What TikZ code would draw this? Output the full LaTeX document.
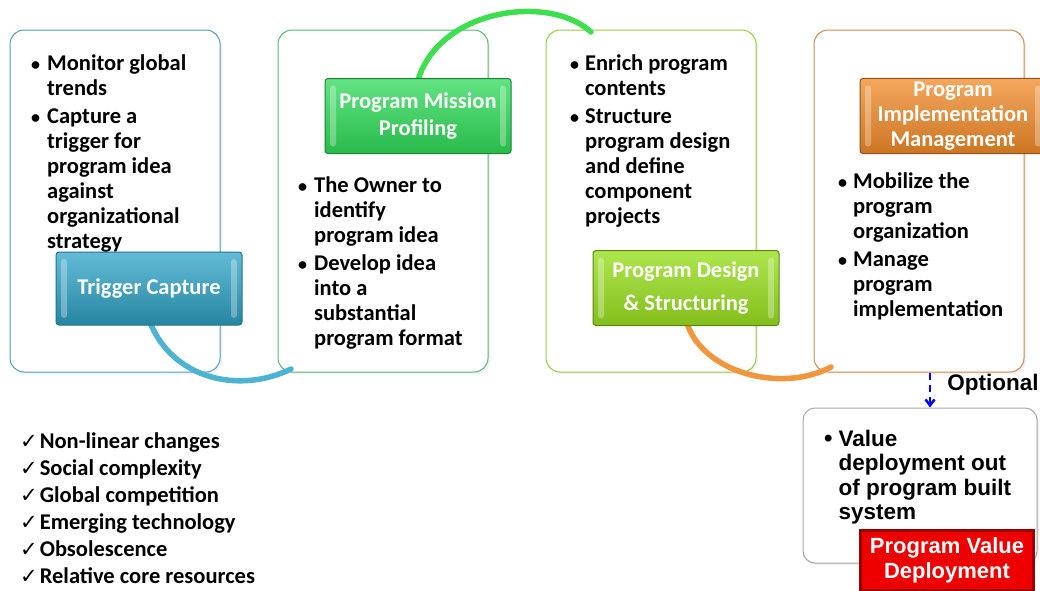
\documentclass[tikz,border=0pt]{standalone}
\usepackage{fontspec}
\setmainfont{Carlito}
\newfontfamily\arialfont{Liberation Sans}
\newfontfamily\checkfont{DejaVu Sans}
\usetikzlibrary{positioning,shadows,arrows.meta}
\definecolor{capblue}{HTML}{2FA6CA}
\definecolor{capblueline}{HTML}{4F9DBC}
\definecolor{misgreen}{HTML}{2FDB58}
\definecolor{misgreenline}{HTML}{52B872}
\definecolor{deslime}{HTML}{9AE022}
\definecolor{deslimeline}{HTML}{9CCB3A}
\definecolor{imporange}{HTML}{F08A28}
\definecolor{imporangeline}{HTML}{CC8A4E}
\definecolor{valred}{HTML}{EE0000}
\newcommand{\bul}{{\fontsize{18}{25}\selectfont\textbullet}}
\newcommand{\chk}{{\checkfont\mdseries\fontsize{21}{27}\selectfont ✓}}

\begin{document}
\begin{tikzpicture}[x=1pt,y=-1pt,
  node distance=57pt,
  bigbox/.style={draw, line width=1pt, fill=white, rounded corners=14pt,
    minimum width=210pt, minimum height=342pt,
    drop shadow={opacity=0.12, shadow xshift=2pt, shadow yshift=-2pt}},
  headbox/.style={rounded corners=3pt, minimum width=186pt, minimum height=75pt,
    text=white, align=center, line width=1pt,
    font=\bfseries\fontsize{22.5}{25}\selectfont,
    path picture={
      \fill[white, opacity=0.3] ([xshift=5pt, yshift=-7pt]path picture bounding box.north west)
        rectangle ([xshift=11pt, yshift=7pt]path picture bounding box.south west);
      \fill[white, opacity=0.3] ([xshift=-5pt, yshift=-7pt]path picture bounding box.north east)
        rectangle ([xshift=-11pt, yshift=7pt]path picture bounding box.south east);}},
  itemtext/.style={anchor=north west, inner sep=0pt,
    font=\bfseries\fontsize{22.5}{25}\selectfont},
  link/.style={line width=5.5pt, line cap=round}]
  \useasboundingbox (0,0) rectangle (1040,590);

  \node[bigbox, draw=capblueline] (b1) at (115,201) {};
  \node[bigbox, draw=misgreenline, right=of b1] (b2) {};
  \node[bigbox, draw=deslimeline, right=of b2] (b3) {};
  \node[bigbox, draw=imporangeline, right=of b3] (b4) {};
  \node[bigbox, draw=gray!70, minimum width=234pt, minimum height=155pt, rounded corners=12pt] (b5) at (920,485.5) {};

  \node[itemtext] (t1) at (31,53) {\begin{tabular}{@{}l@{\hspace{7pt}}l@{}}
    \bul & Monitor global\\ & trends\\[3pt]
    \bul & Capture a\\ & trigger for\\ & program idea\\ & against\\ & organizational\\ & strategy
  \end{tabular}};
  \node[itemtext] (t2) at (298,175) {\begin{tabular}{@{}l@{\hspace{7pt}}l@{}}
    \bul & The Owner to\\ & identify\\ & program idea\\[3pt]
    \bul & Develop idea\\ & into a\\ & substantial\\ & program format
  \end{tabular}};
  \node[itemtext] (t3) at (570,53) {\begin{tabular}{@{}l@{\hspace{6pt}}l@{}}
    \bul & Enrich program\\ & contents\\[3pt]
    \bul & Structure\\ & program design\\ & and define\\ & component\\ & projects
  \end{tabular}};
  \node[itemtext] (t4) at (838,171) {\begin{tabular}{@{}l@{\hspace{6pt}}l@{}}
    \bul & Mobilize the\\ & program\\ & organization\\[3pt]
    \bul & Manage\\ & program\\ & implementation
  \end{tabular}};
  \node[itemtext, font=\arialfont\bfseries\fontsize{22.5}{24.5}\selectfont] (t5) at (824,429) {\begin{tabular}{@{}l@{\hspace{6pt}}l@{}}
    {\fontsize{24}{24.5}\selectfont\textbullet} & Value\\ & deployment out\\ & of program built\\ & system
  \end{tabular}};

  \draw[link, capblue!85!white] (149,320) .. controls (172,380) and (240,394) .. (291,369);
  \draw[link, misgreen!90!lime] (418,80) .. controls (440,8) and (550,-6) .. (591,32);
  \draw[link, imporange!90!white] (686,320) .. controls (700,372) and (780,394) .. (831,367);

  \node[headbox, top color=capblue!75!white, bottom color=capblue!80!black, draw=capblue!70!black, minimum height=73pt] (h1) at (149,288.5) {Trigger Capture};
  \node[headbox, top color=misgreen!75!white, bottom color=misgreen!85!black, draw=misgreen!60!black] (h2) at (418,116) {Program Mission\\[2pt]Profiling};
  \node[headbox, top color=deslime!80!white, bottom color=deslime!85!black, draw=deslime!60!black] (h3) at (686,288) {Program Design\\[8pt]\& Structuring};
  \node[headbox, top color=imporange!75!white, bottom color=imporange!85!black, draw=imporange!60!black] (h4) at (953,116) {Program\\Implementation\\Management};
  \node[draw=valred!65!black, line width=3pt, fill=valred, text=white, align=center,
    minimum width=173pt, minimum height=60pt,
    font=\arialfont\bfseries\fontsize{22}{25}\selectfont] (h5) at (947,560) {Program Value\\Deployment};

  \draw[dash pattern=on 7pt off 5pt, line width=2.5pt, blue, -{Straight Barb[length=6pt, width=9pt]}] ([xshift=11pt]b4.south) -- ([xshift=10pt]b5.north);
  \node[font=\arialfont\bfseries\fontsize{22.5}{24}\selectfont] (o1) at (993,385) {Optional};

  \node[itemtext, font=\bfseries\fontsize{22.5}{27}\selectfont] (k1) at (20,429) {\begin{tabular}{@{}l@{\hspace{2pt}}l@{}}
    \chk & Non-linear changes\\
    \chk & Social complexity\\
    \chk & Global competition\\
    \chk & Emerging technology\\
    \chk & Obsolescence\\
    \chk & Relative core resources
  \end{tabular}};
\end{tikzpicture}
\end{document}
